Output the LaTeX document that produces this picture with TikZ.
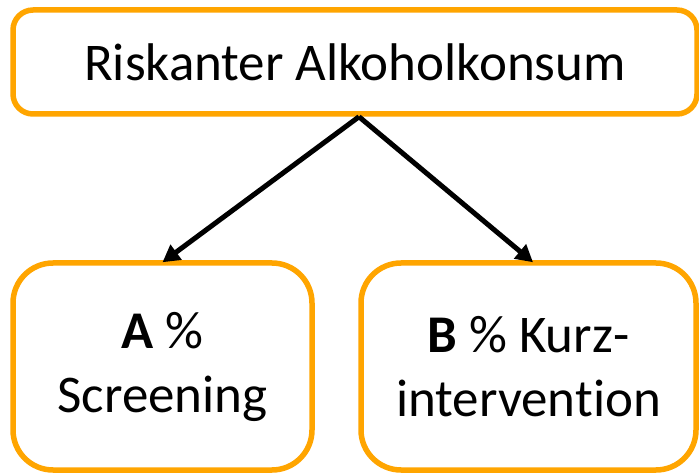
\documentclass[tikz,border=0pt]{standalone}
\usepackage{fontspec}
\setmainfont[Ligatures=NoCommon]{Carlito}
\usetikzlibrary{arrows.meta}

\definecolor{boxorange}{RGB}{255,165,0}

\begin{document}
\begin{tikzpicture}[x=1pt,y=-1pt,
	box/.style={draw=boxorange,line width=5.5pt,fill=white,align=center,
		font=\fontsize{53}{64}\selectfont,inner sep=0pt},
	pfeil/.style={line width=5pt,-{Triangle[length=17pt,width=18pt]}}]
	\useasboundingbox (0,0) rectangle (699,473);
	\clip (0,0) rectangle (699,473);

	% orange boxes
	\node [box,rounded corners=20pt,minimum width=684pt,minimum height=104pt] (risk) at (355,62) {Riskanter Alkoholkonsum};
	\node [box,rounded corners=40pt,minimum width=299pt,minimum height=207pt] (scr) at (162.5,366.5) {\textbf{A} \%\\Screening};
	\node [box,rounded corners=40pt,minimum width=335pt,minimum height=207pt] (kurz) at (528.5,366.5) {\textbf{B} \% Kurz-\\intervention};

	% arrows
	\draw [pfeil] ([xshift=4pt]risk.south) -- ([yshift=-2pt]scr.north);
	\draw [pfeil] ([xshift=4pt]risk.south) -- ([xshift=4.5pt,yshift=-2pt]kurz.north);
\end{tikzpicture}
\end{document}
